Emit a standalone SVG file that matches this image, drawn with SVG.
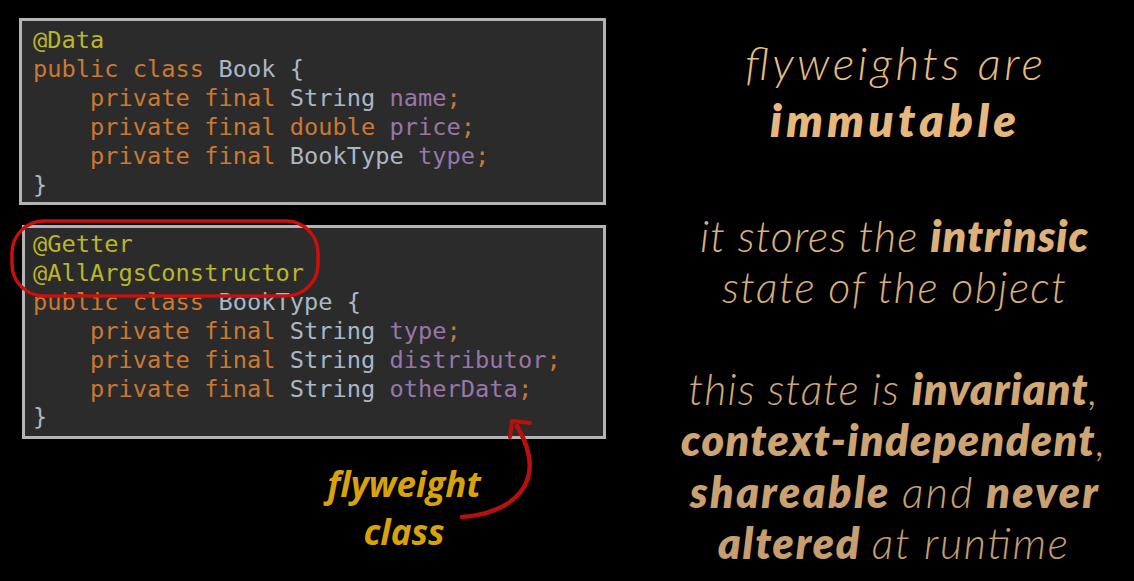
<svg xmlns="http://www.w3.org/2000/svg" width="1134" height="581" viewBox="0 0 1134 581">
<defs>
<style>
.box{fill:#2b2b2b;stroke:#b4b4b4;stroke-width:3}
.code{font-family:"DejaVu Sans Mono","Liberation Mono",monospace;font-size:23.700px;white-space:pre}
.an{fill:#bbb529}.kw{fill:#cc7832}.ty{fill:#a9b7c6}.fd{fill:#9876aa}
.r{font-family:Lato,"Noto Sans",sans-serif;font-style:italic;text-anchor:middle}
.l{font-weight:300}.b{font-weight:800}
.lbl{font-family:"Open Sans","Noto Sans",sans-serif;font-style:italic;font-weight:700;font-size:35px;fill:#d9a20c;text-anchor:middle}
</style>
<linearGradient id="g" gradientUnits="userSpaceOnUse" x1="0" y1="40" x2="0" y2="570">
<stop offset="0" stop-color="#ecbd80"/><stop offset="1" stop-color="#c49c6e"/>
</linearGradient>
</defs>
<rect width="1134" height="581" fill="#000"/>
<g id="book">
<rect class="box" x="20.500" y="19.500" width="584" height="184"/>
<text class="code" x="33" y="48"><tspan class="an">@Data</tspan></text>
<text class="code" x="33" y="77"><tspan class="kw">public class </tspan><tspan class="ty">Book {</tspan></text>
<text class="code" x="33" y="106"><tspan class="kw">    private final </tspan><tspan class="ty">String </tspan><tspan class="fd">name</tspan><tspan class="kw">;</tspan></text>
<text class="code" x="33" y="135"><tspan class="kw">    private final double </tspan><tspan class="fd">price</tspan><tspan class="kw">;</tspan></text>
<text class="code" x="33" y="164"><tspan class="kw">    private final </tspan><tspan class="ty">BookType </tspan><tspan class="fd">type</tspan><tspan class="kw">;</tspan></text>
<text class="code" x="33" y="193"><tspan class="ty">}</tspan></text>
</g>
<g id="booktype">
<rect class="box" x="23.500" y="226.500" width="581" height="211"/>
<text class="code" x="33" y="252"><tspan class="an">@Getter</tspan></text>
<text class="code" x="33" y="281"><tspan class="an">@AllArgsConstructor</tspan></text>
<text class="code" x="33" y="310"><tspan class="kw">public class </tspan><tspan class="ty">BookType {</tspan></text>
<text class="code" x="33" y="339"><tspan class="kw">    private final </tspan><tspan class="ty">String </tspan><tspan class="fd">type</tspan><tspan class="kw">;</tspan></text>
<text class="code" x="33" y="368"><tspan class="kw">    private final </tspan><tspan class="ty">String </tspan><tspan class="fd">distributor</tspan><tspan class="kw">;</tspan></text>
<text class="code" x="33" y="397"><tspan class="kw">    private final </tspan><tspan class="ty">String </tspan><tspan class="fd">otherData</tspan><tspan class="kw">;</tspan></text>
<text class="code" x="33" y="425"><tspan class="ty">}</tspan></text>
</g>
<g id="highlight">
<rect x="12" y="221" width="306" height="75" rx="32" fill="none" stroke="#c8100c" stroke-width="3.500"/>
</g>
<g id="label">
<text class="lbl" x="404" y="497">flyweight</text>
<text class="lbl" x="404" y="545">class</text>
</g>
<g id="connectors">
<path d="M462 517 C508 514 552 486 517 426" fill="none" stroke="#b8110d" stroke-width="4.500" stroke-linecap="round"/>
<path d="M530 423 L512 421 L510 437" fill="none" stroke="#b8110d" stroke-width="4" stroke-linecap="round" stroke-linejoin="round"/>
</g>
<g id="notes" fill="url(#g)">
<text class="r l" x="894" y="80" font-size="46" textLength="298" lengthAdjust="spacing">flyweights are</text>
<text class="r b" x="893" y="137" font-size="46" textLength="246" lengthAdjust="spacing">immutable</text>
<text class="r l" x="894" y="252" font-size="43" textLength="388" lengthAdjust="spacing">it stores the <tspan class="b">intrinsic</tspan></text>
<text class="r l" x="894" y="303" font-size="43" textLength="344" lengthAdjust="spacing">state of the object</text>
<text class="r l" x="893" y="405" font-size="43" textLength="409" lengthAdjust="spacing">this state is <tspan class="b">invariant</tspan>,</text>
<text class="r b" x="893" y="456" font-size="43" textLength="424" lengthAdjust="spacing">context-independent<tspan class="l">,</tspan></text>
<text class="r b" x="894" y="508" font-size="43" textLength="408" lengthAdjust="spacing">shareable <tspan class="l">and</tspan> never</text>
<text class="r b" x="893" y="559" font-size="43" textLength="350" lengthAdjust="spacing">altered <tspan class="l">at runtime</tspan></text>
</g>
</svg>
